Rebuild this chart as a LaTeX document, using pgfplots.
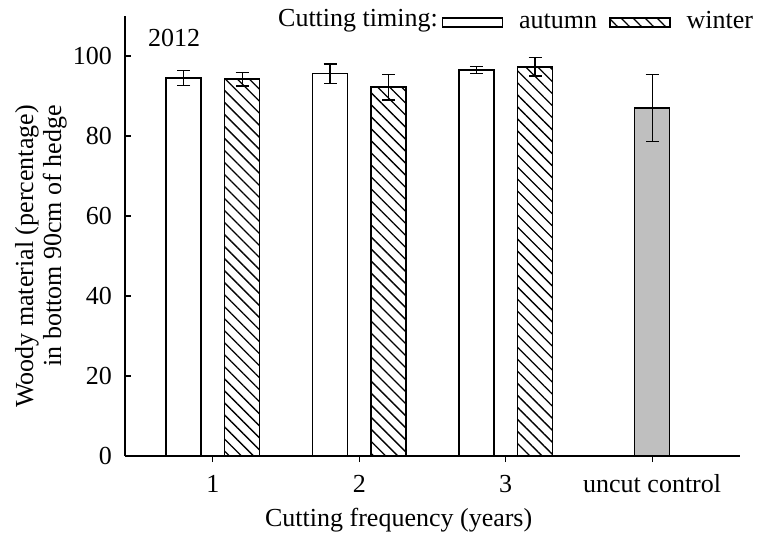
\documentclass[border=0pt]{standalone}
\usepackage{fontspec}
\setmainfont{Liberation Serif}
\usepackage{pgfplots}
\pgfplotsset{compat=1.18}
\usetikzlibrary{patterns.meta}

\pgfplotsset{boxlegend/.style={legend image code/.code={\draw[##1] (0bp,1bp) rectangle (60bp,10bp);}}}

% bars drawn at category position -/+ 0.2 (autumn / winter)
\pgfplotstableread{
x y e
0.8 94.5 1.8
1.8 95.6 2.4
2.8 96.5 0.9
}\autumn
\pgfplotstableread{
x y e
1.2 94.2 1.7
2.2 92.2 3.2
3.2 97.3 2.3
}\winter
\pgfplotstableread{
x y e
4 87.0 8.3
}\control

\begin{document}
\fontsize{26bp}{28bp}\selectfont
\begin{tikzpicture}
\useasboundingbox (-125bp,-83bp) rectangle (637bp,456bp);
\begin{axis}[
  at={(0,0)}, anchor=south west,
  scale only axis, width=615bp, height=440bp,
  xmin=0.4, xmax=4.6, ymin=0, ymax=110,
  axis x line*=bottom, axis y line*=left,
  axis line style={line width=1.5bp, -, black},
  xtick={1,2,3,4}, xticklabels={1,2,3,uncut control},
  ytick={0,20,40,60,80,100},
  xtick pos=bottom, ytick pos=left,
  major tick length=6bp,
  xtick align=outside, ytick align=inside,
  tick style={line width=1.2bp, black},
  /pgf/number format/assume math mode=true,
  xticklabel style={inner sep=0pt, anchor=base, yshift=-30bp},
  yticklabel style={inner sep=0pt, anchor=east, xshift=-13bp},
  xlabel={Cutting frequency (years)},
  xlabel style={at={(axis description cs:0.445,0)}, anchor=base, yshift=-70bp, inner sep=0pt},
  legend style={draw=none, fill=none, inner sep=0pt, outer sep=0pt,
    at={(1.0211,0.9636)}, anchor=south east,
    cells={anchor=base west}, nodes={inner sep=0pt},
    /tikz/every odd column/.append style={column sep=16bp},
    /tikz/every even column/.append style={column sep=12bp}},
  legend columns=-1,
]
\addplot[ybar, bar width=35bp, bar shift=0bp, fill=white, draw=black, line width=1.5bp,
  boxlegend,
  error bars/.cd, y dir=both, y explicit,
  error bar style={line width=1.2bp, black},
  error mark options={rotate=90, mark size=6.5bp, line width=1.2bp, black}]
  table[x=x, y=y, y error=e] {\autumn};
\addlegendentry{autumn}
\addplot[ybar, bar width=35bp, bar shift=0bp, draw=black, line width=1.5bp,
  pattern={Lines[angle=-45, distance=8.5bp, line width=1.3bp]}, pattern color=black,
  boxlegend,
  error bars/.cd, y dir=both, y explicit,
  error bar style={line width=1.2bp, black},
  error mark options={rotate=90, mark size=6.5bp, line width=1.2bp, black}]
  table[x=x, y=y, y error=e] {\winter};
\addlegendentry{winter}
\addplot[ybar, bar width=35bp, bar shift=0bp, fill=black!25, draw=black, line width=1.5bp,
  forget plot,
  error bars/.cd, y dir=both, y explicit,
  error bar style={line width=1.2bp, black},
  error mark options={rotate=90, mark size=6.5bp, line width=1.2bp, black}]
  table[x=x, y=y, y error=e] {\control};
\end{axis}
\node[anchor=base east, inner sep=0pt] at (313bp,429bp) {Cutting timing:};
\node[anchor=base west, inner sep=0pt] at (23bp,409bp) {2012};
\node[rotate=90, align=right, anchor=east, inner sep=0pt] at (-84bp,351bp)
  {Woody material (percentage)\\in bottom 90cm of hedge};
\end{tikzpicture}
\end{document}
